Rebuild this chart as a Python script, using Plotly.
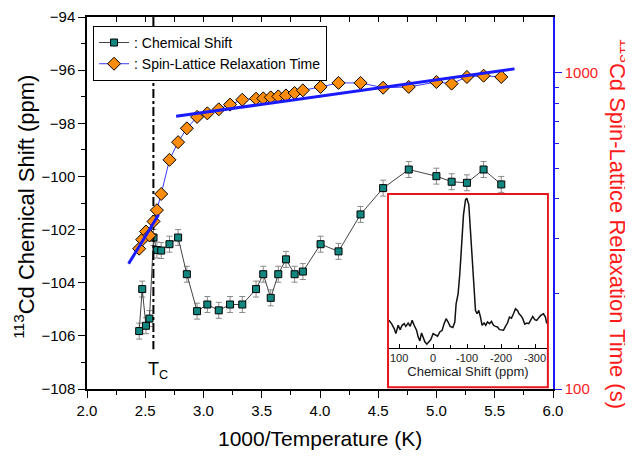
import plotly.graph_objects as go

# ---------------- data ----------------
inv_temp = [2.448, 2.474, 2.506, 2.536, 2.571, 2.600, 2.637, 2.708, 2.782, 2.857,
            2.945, 3.033, 3.131, 3.228, 3.333, 3.451, 3.513, 3.577, 3.642, 3.708,
            3.782, 3.853, 4.005, 4.159, 4.348, 4.542, 4.762, 4.999, 5.130, 5.261,
            5.404, 5.556]
chem_shift = [-105.82, -104.24, -105.62, -105.35, -102.30, -102.77, -102.79, -102.55, -102.30, -103.68,
              -105.07, -104.82, -105.04, -104.82, -104.82, -104.24, -103.68, -104.57, -103.68, -103.12,
              -103.68, -103.58, -102.55, -102.82, -101.43, -100.44, -99.74, -99.99, -100.20, -100.24,
              -99.74, -100.30]
chem_err = [0.3, 0.3, 0.3, 0.3, 0.3, 0.3, 0.3, 0.3, 0.3, 0.3,
            0.3, 0.3, 0.3, 0.3, 0.3, 0.3, 0.3, 0.3, 0.3, 0.3,
            0.3, 0.3, 0.3, 0.3, 0.3, 0.3, 0.3, 0.3, 0.3, 0.3,
            0.3, 0.3]
t1_time = [278, 297, 315, 306, 339, 368, 414, 531, 604, 668,
           726, 745, 767, 794, 823, 829, 831, 837, 843, 849,
           864, 881, 903, 930, 930, 898, 903, 936, 925, 971,
           980, 971]

fit_low_x = [2.357, 2.614]
fit_low_y = [249, 356]
fit_high_x = [2.765, 5.67]
fit_high_y = [729, 1030]

tc_x = [2.57, 2.57]
tc_y = [-94, -106.5]

spec_ppm = [130.3, 122.4, 114.7, 109.7, 102.9, 97.1, 91.2, 85.3, 80.3, 73.5,
            67.6, 61.8, 55.9, 48.8, 44.1, 39.1, 34.1, 29.4, 24.4, 18.5,
            12.6, 6.8, 0.0, -5.0, -12.9, -19.7, -26.5, -32.4, -38.2, -44.1,
            -50.0, -57.9, -63.8, -67.6, -73.5, -78.5, -83.5, -89.4, -95.3, -99.1,
            -105.0, -110.0, -114.7, -119.7, -124.7, -129.4, -134.4, -139.4, -144.1, -150.0,
            -155.0, -160.0, -165.9, -171.8, -177.6, -183.5, -189.4, -195.3, -201.2, -207.1,
            -212.9, -218.8, -224.7, -230.6, -236.5, -242.4, -248.2, -252.9, -257.9, -263.8,
            -269.7, -275.6, -281.5, -287.4, -293.2, -299.1, -305.0, -310.9, -316.8, -324.7,
            -330.6, -334.4]
spec_int = [0.185, 0.163, 0.130, 0.097, 0.152, 0.123, 0.152, 0.163, 0.145, 0.167,
            0.145, 0.185, 0.152, 0.119, 0.075, 0.048, 0.101, 0.075, 0.042, 0.026,
            0.042, 0.057, 0.097, 0.090, 0.079, 0.108, 0.119, 0.163, 0.196, 0.174,
            0.145, 0.137, 0.174, 0.295, 0.362, 0.494, 0.714, 0.890, 0.989, 1.000,
            0.956, 0.780, 0.560, 0.383, 0.251, 0.229, 0.251, 0.207, 0.152, 0.167,
            0.152, 0.174, 0.163, 0.178, 0.152, 0.145, 0.141, 0.123, 0.119, 0.119,
            0.145, 0.167, 0.207, 0.200, 0.229, 0.262, 0.251, 0.229, 0.218, 0.196,
            0.159, 0.167, 0.163, 0.185, 0.211, 0.190, 0.185, 0.203, 0.218, 0.229,
            0.207, 0.163]

x_ticks = [2.0, 2.5, 3.0, 3.5, 4.0, 4.5, 5.0, 5.5, 6.0]
x_top_ticks = [2.25, 2.5, 2.75, 3.0, 3.25, 3.5, 3.75, 4.0, 4.25, 4.5, 4.75, 5.0, 5.25, 5.5, 5.75]
y_ticks = [-108, -106, -104, -102, -100, -98, -96, -94]
y2_ticks = [100, 1000]
y2_minor = [200, 300, 400, 500, 600, 700, 800, 900]
inset_ticks = [100, 0, -100, -200, -300]

FONT = "Arial, Liberation Sans, sans-serif"
TEAL = "#11877f"
ORANGE = "#ff8c0a"
BLUE = "#1a1aff"

fig = go.Figure()

# chemical shift
fig.add_trace(go.Scatter(
    x=inv_temp, y=chem_shift, mode="lines+markers", name=": Chemical Shift",
    line=dict(color="#444444", width=1),
    marker=dict(symbol="square", size=7, color=TEAL, line=dict(color="black", width=1)),
    error_y=dict(type="data", array=chem_err, color="#8a8a8a", thickness=1, width=3),
    xaxis="x", yaxis="y"))

# Tc line
fig.add_trace(go.Scatter(
    x=tc_x, y=tc_y, mode="lines", showlegend=False,
    line=dict(color="black", width=2, dash="dashdot"), xaxis="x", yaxis="y"))

# relaxation time
fig.add_trace(go.Scatter(
    x=inv_temp, y=t1_time, mode="lines+markers", name=": Spin-Lattice Relaxation Time",
    line=dict(color="#3a3aff", width=1),
    marker=dict(symbol="diamond", size=10, color=ORANGE, line=dict(color="black", width=1)),
    xaxis="x", yaxis="y2"))

# fits
fig.add_trace(go.Scatter(x=fit_low_x, y=fit_low_y, mode="lines", showlegend=False,
                         line=dict(color=BLUE, width=3), xaxis="x", yaxis="y2"))
fig.add_trace(go.Scatter(x=fit_high_x, y=fit_high_y, mode="lines", showlegend=False,
                         line=dict(color=BLUE, width=3), xaxis="x", yaxis="y2"))

# dummy for top tick axis
fig.add_trace(go.Scatter(x=[], y=[], xaxis="x2", yaxis="y", showlegend=False, hoverinfo="skip"))

# inset spectrum
fig.add_trace(go.Scatter(x=spec_ppm, y=spec_int, mode="lines", showlegend=False,
                         line=dict(color="#111111", width=1.5), xaxis="x3", yaxis="y3"))

fig.update_layout(
    width=625, height=448,
    margin=dict(l=79, r=80, t=9, b=67, autoexpand=False),
    paper_bgcolor="white", plot_bgcolor="white",
    font=dict(family=FONT, color="black"),
    showlegend=True,
    legend=dict(x=0.013, y=0.976, xanchor="left", yanchor="top",
                bgcolor="white", bordercolor="black", borderwidth=1,
                font=dict(size=14, family=FONT), tracegroupgap=0),
    xaxis=dict(range=[2, 6], tickvals=x_ticks, ticktext=[f"{v:.1f}" for v in x_ticks],
               ticks="outside", ticklen=7, tickwidth=1, tickcolor="black",
               minor=dict(dtick=0.25, tick0=2, ticks="outside", ticklen=4, tickcolor="black"),
               showline=True, linecolor="black", linewidth=1.5, mirror=True,
               showgrid=False, zeroline=False, tickfont=dict(size=15),
               domain=[0, 1], anchor="y", automargin=False),
    xaxis2=dict(range=[2, 6], overlaying="x", side="top", anchor="y",
                tickvals=x_top_ticks,
                ticks="inside", ticklen=5, tickcolor="black", showticklabels=False,
                showline=False, showgrid=False, zeroline=False, automargin=False),
    yaxis=dict(range=[-108, -94], tickvals=y_ticks, ticks="outside", ticklen=7,
               tickcolor="black", minor=dict(dtick=1, tick0=-108, ticks="outside", ticklen=4, tickcolor="black"),
               showline=True, linecolor="black", linewidth=1.5,
               showgrid=False, zeroline=False, tickfont=dict(size=15), anchor="x", automargin=False),
    yaxis2=dict(type="log", range=[2, 3.177], overlaying="y", side="right", anchor="x",
                tickvals=y2_ticks, ticktext=["100", "1000"], ticks="outside", ticklen=7,
                tickcolor=BLUE, linecolor=BLUE, linewidth=1.5, showline=True,
                minor=dict(tickvals=y2_minor, ticks="outside", ticklen=4, tickcolor=BLUE),
                showgrid=False, zeroline=False, tickfont=dict(size=15, color="#ff2020"),
                automargin=False),
    xaxis3=dict(domain=[0.648, 0.987], anchor="y3", range=[130, -335],
                tickvals=inset_ticks, ticktext=[str(v) for v in inset_ticks],
                ticks="inside", ticklen=4, tickcolor="black",
                minor=dict(dtick=50, tick0=0, ticks="inside", ticklen=3, tickcolor="black"),
                showline=True, linecolor="black", linewidth=1, showgrid=False, zeroline=False,
                tickfont=dict(size=11, color="#222222"), automargin=False,
                title=dict(text="Chemical Shift (ppm)", font=dict(size=13, color="#222222"), standoff=3)),
    yaxis3=dict(domain=[0.110, 0.517], anchor="x3", range=[0, 1.01], visible=False, automargin=False),
    shapes=[dict(type="rect", xref="paper", yref="paper", x0=0.646, x1=0.989, y0=0.005, y1=0.524,
                 line=dict(color="#e8141c", width=2), fillcolor="white", layer="below")],
    annotations=[
        dict(text="<sup>113</sup>Cd Chemical Shift (ppm)", xref="paper", yref="paper",
             x=-0.135, y=0.49, textangle=-90, showarrow=False, xanchor="center", yanchor="middle",
             font=dict(size=22, color="black")),
        dict(text="<sup>113</sup>Cd Spin-Lattice Relaxation Time (s)", xref="paper", yref="paper",
             x=1.143, y=0.4435, textangle=90, showarrow=False, xanchor="center", yanchor="middle",
             font=dict(size=22, color="#ff1a1a")),
        dict(text="1000/Temperature (K)", xref="paper", yref="paper", x=0.5, y=-0.132,
             showarrow=False, xanchor="center", yanchor="middle", font=dict(size=21, color="black")),
        dict(text="T<sub>C</sub>", xref="x", yref="y", x=tc_x[0], y=-107.3, xshift=5,
             showarrow=False, xanchor="center", yanchor="middle", font=dict(size=18, color="black")),
    ],
)

fig.write_html("out.html")
